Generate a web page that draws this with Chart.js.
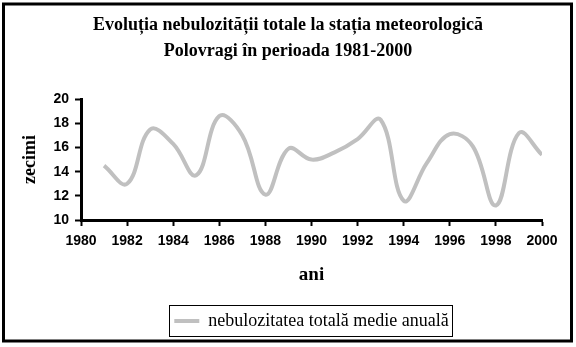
<!DOCTYPE html>
<html>
<head>
<meta charset="utf-8">
<script src="https://cdn.jsdelivr.net/npm/chart.js@4/dist/chart.umd.min.js"></script>
<style>
  html, body { margin: 0; padding: 0; background: #fff; }
  #wrap { width: 576px; height: 347px; }
</style>
</head>
<body>
<div id="wrap"><canvas id="nebul" width="576" height="347"></canvas></div>
<script>
// valori (zecimi)
const years = [1981, 1982, 1983, 1984, 1985, 1986, 1987, 1988, 1989, 1990,
               1991, 1992, 1993, 1994, 1995, 1996, 1997, 1998, 1999, 2000];
const cloud = [14.5, 13.0, 17.5, 16.3, 13.7, 18.6, 17.0, 12.1, 15.9, 15.0,
               15.6, 16.7, 18.3, 11.6, 14.7, 17.1, 16.1, 11.2, 17.2, 15.4];
const xTicks = [1980, 1982, 1984, 1986, 1988, 1990, 1992, 1994, 1996, 1998, 2000];
const yTicks = [10, 12, 14, 16, 18, 20];

const seriesName = "nebulozitatea totală medie anuală";
const titleLines = ["Evoluția nebulozității totale la stația meteorologică",
                    "Polovragi în perioada 1981-2000"];

const serif = "'Liberation Serif', 'Times New Roman', serif";
const sans = "'Liberation Sans', Arial, sans-serif";

// fundal alb + chenarul exterior + chenarul legendei
const frame = {
  id: "frame",
  beforeDraw(chart) {
    const ctx = chart.ctx;
    ctx.save();
    ctx.fillStyle = "#fff";
    ctx.fillRect(0, 0, chart.width, chart.height);
    ctx.restore();
  },
  afterDraw(chart) {
    const ctx = chart.ctx;
    ctx.save();
    ctx.strokeStyle = "#000";
    ctx.lineWidth = 3;
    ctx.strokeRect(3.5, 4, 568, 337);
    const hit = chart.legend.legendHitBoxes[0];
    if (hit) {
      ctx.lineWidth = 1;
      ctx.strokeRect(Math.round(hit.left - 5) + 0.5, Math.round(hit.top - 7) + 0.5,
                     Math.round(hit.width + 9), Math.round(hit.height + 13));
    }
    ctx.restore();
  }
};

const data = {
  datasets: [{
    label: seriesName,
    data: years.map((y, i) => ({ x: y, y: cloud[i] })),
    borderColor: "#c0c0c0",
    backgroundColor: "#c0c0c0",
    borderWidth: 4,
    pointRadius: 0,
    tension: 0.4,
    fill: false
  }]
};

const config = {
  type: "line",
  data: data,
  plugins: [frame],
  options: {
    responsive: false,
    animation: false,
    layout: { padding: { top: 0, left: 0, right: 0, bottom: 7 } },
    plugins: {
      title: {
        display: true,
        text: titleLines,
        color: "#000",
        font: { family: serif, size: 18, weight: "bold", lineHeight: 1.45 },
        padding: { top: 12, bottom: 35 }
      },
      legend: {
        position: "bottom",
        fullSize: false,
        labels: {
          color: "#000",
          font: { family: serif, size: 18 },
          usePointStyle: true,
          pointStyle: "line",
          pointStyleWidth: 25,
          padding: 8
        }
      },
      tooltip: { enabled: false }
    },
    scales: {
      x: {
        type: "linear",
        min: 1980,
        max: 2000,
        afterBuildTicks: (s) => { s.ticks = xTicks.map((v) => ({ value: v })); },
        afterFit: (s) => { s.height = 84; },
        border: { color: "#000", width: 3 },
        grid: { drawOnChartArea: false, color: "#000", tickLength: 6, tickWidth: 2 },
        ticks: {
          color: "#000",
          padding: 7,
          maxRotation: 0,
          font: { family: sans, size: 14, weight: "bold" },
          callback: (v) => String(v)
        },
        title: {
          display: true,
          text: "ani",
          color: "#000",
          font: { family: serif, size: 19, weight: "bold", lineHeight: 1.2 },
          padding: { top: 0, bottom: 18 }
        }
      },
      y: {
        min: 10,
        max: 20,
        afterBuildTicks: (s) => { s.ticks = yTicks.map((v) => ({ value: v })); },
        afterFit: (s) => { s.width = 81; },
        border: { color: "#000", width: 3 },
        grid: { drawOnChartArea: false, color: "#000", tickLength: 6, tickWidth: 2 },
        ticks: {
          color: "#000",
          padding: 6,
          font: { family: sans, size: 14, weight: "bold" }
        },
        title: {
          display: true,
          text: "zecimi",
          color: "#000",
          font: { family: serif, size: 18, weight: "bold", lineHeight: 1.2 },
          padding: { top: 20, bottom: 0 }
        }
      },
      pad: {
        type: "linear",
        position: "right",
        grid: { display: false },
        border: { display: false },
        ticks: { display: false },
        afterFit: (s) => { s.width = 34; }
      }
    }
  }
};

const nebulCtx = document.getElementById("nebul").getContext("2d");
let chart = new Chart(nebulCtx, config);
</script>
</body>
</html>
